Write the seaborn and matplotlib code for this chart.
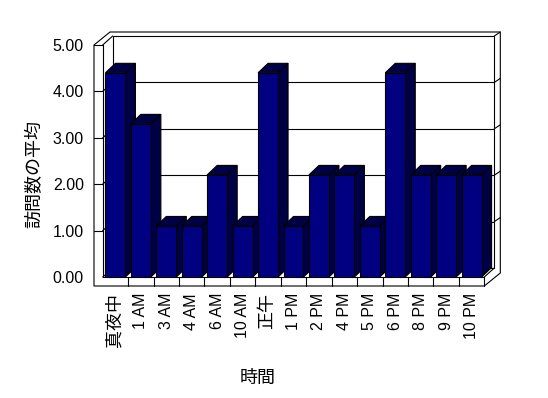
import matplotlib
matplotlib.use('Agg')
import matplotlib.pyplot as plt
import seaborn as sns
import pandas as pd
from matplotlib.patches import Polygon, Rectangle
from matplotlib.lines import Line2D
from matplotlib.transforms import IdentityTransform

# ---- data ----
categories = ['真夜中', '1 AM', '3 AM', '4 AM', '6 AM', '10 AM', '正午', '1 PM',
              '2 PM', '4 PM', '5 PM', '6 PM', '8 PM', '9 PM', '10 PM']
values = [4.4, 3.3, 1.1, 1.1, 2.2, 1.1, 4.4, 1.1, 2.2, 2.2, 1.1, 4.4, 2.2, 2.2, 2.2]
y_ticks = [0, 1, 2, 3, 4, 5]
y_tick_labels = ['0.00', '1.00', '2.00', '3.00', '4.00', '5.00']
x_title = '時間'
y_title = '訪問数の平均'

# ---- style ----
sns.set_theme(style='white')
plt.rcParams['font.family'] = ['Liberation Sans', 'Noto Sans CJK JP', 'DejaVu Sans']
plt.rcParams['text.color'] = 'black'
plt.rcParams['axes.labelcolor'] = 'black'
plt.rcParams['xtick.color'] = 'black'
plt.rcParams['ytick.color'] = 'black'

W_PX, H_PX = 548, 398
fig = plt.figure(figsize=(W_PX / 100, H_PX / 100), dpi=100)
fig.patch.set_facecolor('white')
xL, xR, y0, y5 = 102.7, 484.3, 277.0, 45.0
ax = fig.add_axes([xL / W_PX, (H_PX - y0) / H_PX, (xR - xL) / W_PX, (y0 - y5) / H_PX])

df = pd.DataFrame({'cat': categories, 'val': values})
sns.barplot(data=df, x='cat', y='val', color='#000080', saturation=1,
            edgecolor='black', linewidth=0.8, width=0.786, errorbar=None, ax=ax)
bars = sorted([p for p in ax.patches if isinstance(p, Rectangle)], key=lambda p: p.get_x())

ax.set_xlim(-0.5, len(categories) - 0.5)
ax.set_ylim(0, 5)
ax.set_facecolor('none')
for s in ax.spines.values():
    s.set_visible(False)
ax.set_yticks(y_ticks)
ax.set_yticklabels(y_tick_labels)
ax.tick_params(axis='y', length=0, pad=13.5, labelsize=11.5, labelcolor='black')
ax.tick_params(axis='x', length=0, pad=11.5, labelsize=11.5, labelrotation=90, labelcolor='black')
for t in ax.get_xticklabels():
    if any(ord(c) > 0x2000 for c in t.get_text()):
        t.set_fontsize(13)

ax.set_xlabel(x_title, fontsize=13)
ax.set_ylabel(y_title, fontsize=13)
ax.xaxis.label.set_va('center')
ax.yaxis.label.set_va('center')
ax.xaxis.set_label_coords((258 - xL) / (xR - xL), (y0 - 378) / (y0 - y5))
ax.yaxis.set_label_coords((35 - xL) / (xR - xL), (y0 - 174) / (y0 - y5))

# ---- 3D frame decoration (pixel offsets) ----
fig.canvas.draw()
IT = IdentityTransform()
WALL = 8.7     # left wall thickness
FLOOR = 9.0    # floor thickness
D1 = (10.0, 9.0)   # depth to back wall inner face
D2 = (16.0, 13.0)  # depth to back wall outer face
xl, xr = -0.5, len(categories) - 0.5
ymax = 5


def P(x, y, ox=0.0, oy=0.0):
    X, Y = ax.transData.transform((x, y))
    return (X + ox, Y + oy)


def poly(pts, fc, z, lw=0.8):
    ax.add_patch(Polygon(pts, closed=True, facecolor=fc, edgecolor='black',
                         linewidth=lw, transform=IT, clip_on=False, zorder=z))


def line(a, b, z, lw=0.8):
    ax.add_line(Line2D([a[0], b[0]], [a[1], b[1]], color='black', linewidth=lw,
                       transform=IT, clip_on=False, zorder=z))


# outer silhouette
poly([P(xl, 0, -WALL, -FLOOR), P(xl, ymax, -WALL, 0),
      P(xl, ymax, -WALL + D2[0], D2[1]), P(xr, ymax, *D2),
      P(xr, 0, D2[0], -FLOOR + D2[1]), P(xr, 0, 0, -FLOOR)], 'white', 0.5)
# back wall inner face
poly([P(xl, 0, *D1), P(xl, ymax, *D1), P(xr, ymax, *D1), P(xr, 0, *D1)], 'white', 0.6)
line(P(xr, ymax, *D1), P(xr, ymax, *D2), 0.7)
line(P(xl, ymax), P(xl, ymax, *D1), 0.7)
line(P(xl, 0), P(xl, 0, *D1), 0.7)
line(P(xr, 0), P(xr, 0, *D1), 0.7)
# gridlines
for yv in y_ticks[1:-1]:
    line(P(xl, yv, *D1), P(xr, yv, *D1), 0.8)
    line(P(xr, yv, *D1), P(xr, yv, *D2), 0.8)
    line(P(xl, yv), P(xl, yv, *D1), 0.8)
    line(P(xl, yv, -WALL, 0), P(xl, yv), 0.8)
# front edges of walls / floor
line(P(xl, 0), P(xr, 0), 0.9)
line(P(xl, 0), P(xl, ymax), 0.9)
line(P(xl, ymax, -WALL, 0), P(xl, ymax), 0.9)
line(P(xr, 0), P(xr, 0, 0, -FLOOR), 0.9)
for k in range(len(categories) - 1):
    line(P(k + 0.5, 0, 0, -FLOOR), P(k + 0.5, 0), 0.9)

# bars: side and top faces
DB = (10.0, 9.5)
for i, b in enumerate(bars):
    x0, w, h = b.get_x(), b.get_width(), b.get_height()
    x1 = x0 + w
    zb = 10 + 2 * i
    poly([P(x1, 0), P(x1, h), P(x1, h, *DB), P(x1, 0, *DB)], '#000045', zb)
    poly([P(x0, h), P(x1, h), P(x1, h, *DB), P(x0, h, *DB)], '#000045', zb)
    b.set_zorder(zb + 1)

fig.savefig('out.png', dpi=100, facecolor='white')
